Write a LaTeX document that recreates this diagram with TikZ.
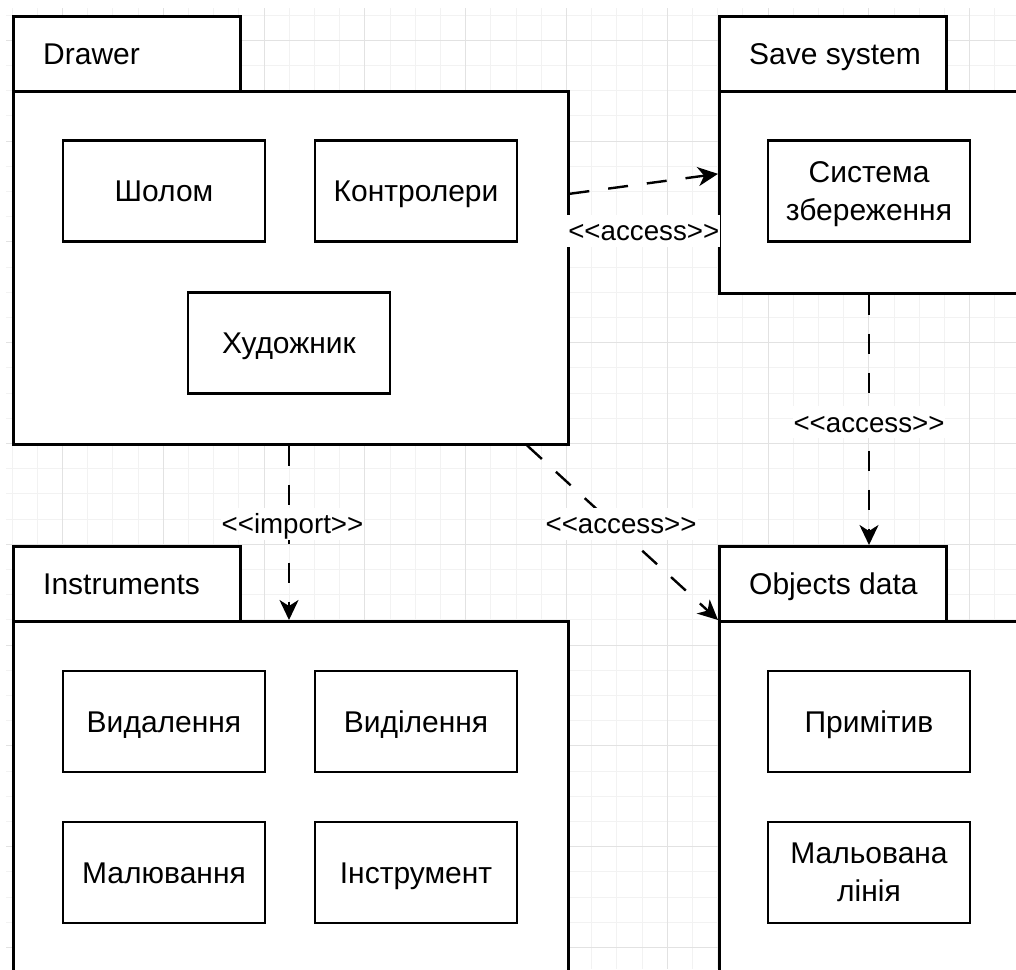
\documentclass[tikz,border=0pt]{standalone}
\usepackage{fontspec}
\setmainfont{Liberation Sans}[Ligatures=TeXOff]
\usetikzlibrary{arrows.meta,calc}

\definecolor{gridminor}{HTML}{F2F2F2}
\definecolor{gridmajor}{HTML}{E2E2E2}

\tikzset{
  every node/.style={font=\fontsize{30}{38}\selectfont},
  oneline/.style={text height=27pt, text depth=5.5pt},
  pkgtab/.style={draw=black, fill=white, line width=2.5pt, anchor=north west,
    minimum width=227pt, minimum height=75pt, inner sep=0pt},
  pkgbody/.style={draw=black, fill=white, line width=2.5pt, anchor=north west,
    minimum width=555pt, inner sep=0pt},
  pkgtitle/.style={anchor=west, inner sep=0pt, oneline},
  part/.style={draw=black, fill=white, line width=2.5pt, minimum width=202pt,
    minimum height=101pt, align=center, inner sep=0pt},
  dep/.style={line width=2.4pt, dash pattern=on 20pt off 19pt,
    -{Stealth[length=20pt,width=19pt,inset=6pt]}},
  deplabel/.style={fill=white, inner sep=1pt, font=\fontsize{27.7}{34}\selectfont,
    text height=25pt, text depth=5pt},
  gridline/.style={gridminor, line width=1pt},
  gridbold/.style={gridmajor, line width=1pt},
}

\begin{document}
\begin{tikzpicture}[x=1pt,y=-1pt]
\useasboundingbox (0,0) rectangle (1016,969);
\clip (0,0) rectangle (1016,969);

% background grid
\foreach \i in {0,...,39}
  \draw[gridline] ({12+25.2*\i},8) -- ({12+25.2*\i},969);
\foreach \j in {0,...,37}
  \draw[gridline] (6,{15+25.2*\j}) -- (1016,{15+25.2*\j});
\foreach \m in {0,...,9} {
  \draw[gridbold] ({62.4+100.8*\m},8) -- ({62.4+100.8*\m},969);
  \draw[gridbold] (6,{40.2+100.8*\m}) -- (1016,{40.2+100.8*\m});
}

% package: Drawer
\node[pkgtab] (drawerTab) at (12,15) {};
\node[pkgbody, minimum height=353pt] (drawerBody) at (12,90) {};
\node[pkgtitle] (drawerTitle) at ($(drawerTab.west)+(31,0)$) {Drawer};
\node[part, oneline] (helmet) at (164,191) {Шолом};
\node[part, oneline] (controllers) at (416,191) {Контролери};
\node[part, oneline] (artist) at (289,343) {Художник};

% package: Save system
\node[pkgtab] (saveTab) at (718,15) {};
\node[pkgbody, minimum height=202pt] (saveBody) at (718,90) {};
\node[pkgtitle] (saveTitle) at ($(saveTab.west)+(31,0)$) {Save system};
\node[part] (saveSys) at (869,191) {Система\\\smash{збереження}};

% package: Instruments
\node[pkgtab] (instrTab) at (12,545) {};
\node[pkgbody, minimum height=400pt] (instrBody) at (12,620) {};
\node[pkgtitle] (instrTitle) at ($(instrTab.west)+(31,0)$) {Instruments};
\node[part, oneline] (erase) at (164,721.5) {Видалення};
\node[part, oneline] (select) at (416,721.5) {Виділення};
\node[part, oneline] (paint) at (164,872.5) {Малювання};
\node[part, oneline] (tool) at (416,872.5) {Інструмент};

% package: Objects data
\node[pkgtab] (objTab) at (718,545) {};
\node[pkgbody, minimum height=400pt] (objBody) at (718,620) {};
\node[pkgtitle] (objTitle) at ($(objTab.west)+(31,0)$) {Objects data};
\node[part, oneline] (primitive) at (869,721.5) {Примітив};
\node[part] (paintedLine) at (869,872.5) {Мальована\\лінія};

% dependencies
\draw[dep] ($(drawerBody.north east)!0.292!(drawerBody.south east)$)
  -- ($(saveBody.north west)!0.41!(saveBody.south west)$)
  node[deplabel, midway, yshift=-47pt] (lblSave) {<<access>>};
\draw[dep] (saveSys |- saveBody.south) -- (saveSys |- objTab.north)
  node[deplabel, midway, yshift=-2.5pt] (lblObjects) {<<access>>};
\draw[dep] (artist |- drawerBody.south) -- (artist |- instrBody.north)
  node[deplabel, midway, xshift=3.5pt, yshift=9pt] (lblImport) {<<import>>};
\draw[dep] ($(drawerBody.south west)!0.924!(drawerBody.south east)$)
  -- (objBody.north west)
  node[deplabel, midway, xshift=-1.5pt, yshift=9pt] (lblData) {<<access>>};
\end{tikzpicture}
\end{document}
